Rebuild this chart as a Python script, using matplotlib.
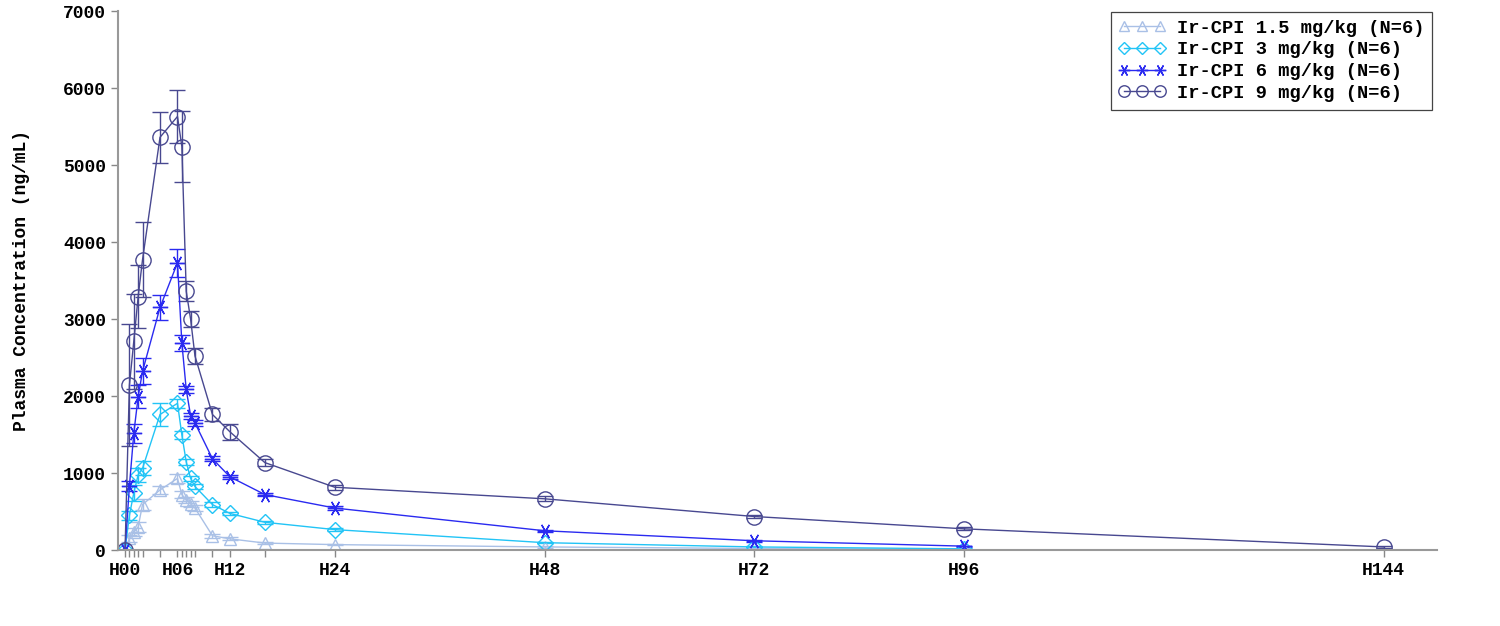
import matplotlib
matplotlib.use("Agg")
import matplotlib.pyplot as plt
from matplotlib.lines import Line2D

# sampling times (hours)
hours = [0, 0.5, 1, 1.5, 2, 4, 6, 6.5, 7, 7.5, 8, 10, 12, 16, 24, 48, 72, 96]
hours_9 = hours + [144]

# mean plasma concentration (ng/mL) and SD
mean_15 = [0, 150, 230, 300, 590, 780, 930, 720, 650, 600, 545, 185, 145, 90, 70, 40, 20, 10]
sd_15 = [0, 40, 50, 60, 70, 50, 60, 50, 40, 40, 35, 25, 20, 15, 10, 8, 5, 4]

mean_3 = [0, 450, 740, 975, 1060, 1760, 1905, 1495, 1145, 930, 825, 590, 475, 360, 265, 95, 40, 15]
sd_3 = [0, 60, 100, 90, 90, 150, 60, 50, 40, 35, 30, 30, 25, 20, 15, 10, 6, 4]

mean_6 = [0, 830, 1515, 1990, 2320, 3150, 3730, 2690, 2085, 1745, 1650, 1185, 950, 720, 545, 250, 120, 50]
sd_6 = [0, 70, 120, 150, 170, 160, 180, 100, 50, 40, 40, 35, 30, 25, 20, 15, 10, 8]

mean_9 = [0, 2140, 2710, 3290, 3770, 5360, 5630, 5240, 3360, 3000, 2520, 1760, 1535, 1135, 815, 665, 435, 275, 40]
sd_9 = [0, 790, 620, 410, 485, 330, 345, 460, 130, 100, 100, 80, 100, 50, 30, 30, 25, 20, 10]

labels = ["Ir-CPI 1.5 mg/kg (N=6)", "Ir-CPI 3 mg/kg (N=6)",
          "Ir-CPI 6 mg/kg (N=6)", "Ir-CPI 9 mg/kg (N=6)"]
colors = ["#a9c0e6", "#22c4f6", "#2a2af0", "#484890"]
markers = ["^", "D", (6, 2, 90), "o"]
msizes = [9, 8, 11, 11]

major_ticks = [0, 6, 12, 24, 48, 72, 96, 144]
major_labels = ["H00", "H06", "H12", "H24", "H48", "H72", "H96", "H144"]

font = {"family": "Liberation Mono", "weight": "bold"}
fsize = 13

fig = plt.figure(figsize=(15, 6.26), dpi=100)
ax = fig.add_axes([0.0787, 0.1214, 0.8793, 0.861])

series = [(hours, mean_15, sd_15), (hours, mean_3, sd_3),
          (hours, mean_6, sd_6), (hours_9, mean_9, sd_9)]
handles = []
for (t, m, s), lab, c, mk, ms in zip(series, labels, colors, markers, msizes):
    ax.errorbar(t, m, yerr=s, color=c, marker=mk, markersize=ms,
                markerfacecolor="none", markeredgecolor=c, markeredgewidth=1.0,
                linewidth=1.0, elinewidth=1.0, capsize=6, capthick=1.0)
    handles.append(Line2D([], [], color=c, marker=mk, markersize=ms * 0.75,
                          markerfacecolor="none", markeredgecolor=c,
                          markeredgewidth=1.0, linewidth=1.0, label=lab))

ax.set_xlim(-0.8, 150.1)
ax.set_ylim(0, 7000)

ax.set_xticks(major_ticks)
ax.set_xticklabels(major_labels, fontdict=font, fontsize=fsize)
ax.set_xticks(hours, minor=True)
ax.set_yticks(range(0, 7001, 1000))
ax.set_yticklabels([str(v) for v in range(0, 7001, 1000)], fontdict=font, fontsize=fsize)
ax.tick_params(axis="both", which="both", direction="out", color="#888888",
               length=5, width=1)

for side in ("top", "right"):
    ax.spines[side].set_visible(False)
for side in ("left", "bottom"):
    ax.spines[side].set_color("#999999")
    ax.spines[side].set_linewidth(1.5)

ax.set_ylabel("Plasma Concentration (ng/mL)", fontdict=font, fontsize=fsize)
ax.yaxis.set_label_coords(-0.067, 0.5)

leg = ax.legend(handles=handles, loc="upper right", numpoints=3,
                prop={"family": "Liberation Mono", "weight": "bold", "size": 13.5},
                fancybox=False, framealpha=1, edgecolor="#444444",
                borderpad=0.42, borderaxespad=0, handlelength=2.5,
                handletextpad=0.6, labelspacing=0.24,
                bbox_to_anchor=(0.9962, 0.9985))
leg.get_frame().set_linewidth(0.9)

fig.savefig("out.png", dpi=100)
